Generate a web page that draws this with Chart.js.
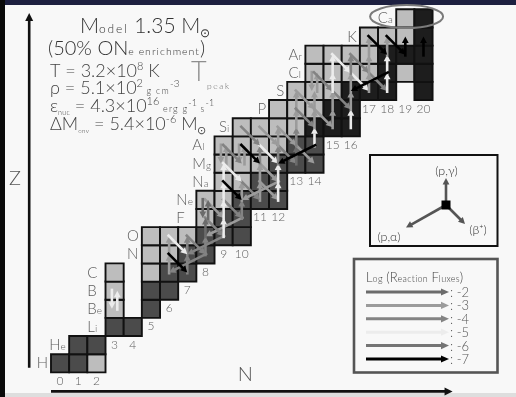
<!DOCTYPE html>
<html>
<head>
<meta charset="utf-8">
<script src="https://cdn.jsdelivr.net/npm/chart.js@4.4.0/dist/chart.umd.min.js"></script>
<style>
  html, body { margin: 0; padding: 0; background: #f8f8f8; }
  #wrap { width: 516px; height: 397px; position: relative; }
</style>
</head>
<body>
<div id="wrap"><canvas id="c"></canvas></div>
<script>
// ---- nuclide chart data -------------------------------------------------
// element symbol for Z = 1..20
const elementSymbols = ['H','He','Li','Be','B','C','N','O','F','Ne','Na','Mg','Al','Si','P','S','Cl','Ar','K','Ca'];
// first neutron number present in each row (Z = 1..20)
const rowFirstN = [0,1,3,3,3,3,5,5,8,8,9,9,9,10,12,13,14,14,17,19];
// cell shade per row, starting at rowFirstN: L light, D dark, K black, '.' empty
const rowShades = ['DDL','DD','DD','L.D','L.DD','L.LDD','LLDD','LLLDDD','LDD','LLDDD','LLDD',
                   'LLLDDD','LLLLDD','LLLLKKK','LLLKK','LLLKKK.K','LLLLKLK','LLLLKKK','LLLK','LK'];
// neutron-number tick labels and the row they sit under
const neutronTicks  = [0,1,2,3,4,5,6,7,8,9,10,11,12,13,14,15,16,17,18,19,20];
const neutronTickZ  = [1,1,1,3,3,4,5,6,7,8,8,10,10,12,12,14,14,16,16,16,16];
// log10 of reaction flux, legend entries
const fluxLevels = [-2,-3,-4,-5,-6,-7];
// reaction flux arrows: [Z from, N from, Z to, N to, log flux]
const fluxArrows = [
  [4,3,5,3,-5],[5,3,4,3,-5],
  [6,6,7,6,-3],[7,6,8,6,-3],[6,7,7,7,-4],[7,7,8,7,-4],[7,8,8,8,-4],
  [7,8,6,6,-4],[8,9,7,7,-4],[9,10,8,8,-3],
  [8,7,7,8,-4],[9,8,8,9,-4],[10,8,9,9,-3],[10,9,9,10,-4],
  [8,8,9,8,-2],[9,8,10,8,-2],[10,8,9,8,-2],
  [9,10,10,10,-4],[10,10,11,10,-3],[10,11,11,11,-3],
  [11,10,10,11,-4],[11,11,10,12,-3],[11,12,10,10,-3],[12,11,11,12,-3],
  [10,12,11,12,-5],[11,12,12,12,-5],
  [8,9,9,9,-5],[9,9,10,9,-5],[10,9,11,9,-5],[11,9,12,9,-5],
  [8,6,7,7,-5],
  [7,6,6,7,-7],
  [11,9,10,10,-7],
  [12,9,13,9,-3],[13,9,12,9,-3],[12,10,13,10,-3],[13,10,12,10,-3],[12,11,13,11,-4],
  [12,9,11,10,-5],[13,9,12,10,-4],[13,11,12,12,-5],[11,11,12,11,-3],
  [12,12,13,12,-4],[13,12,12,13,-4],[12,13,13,13,-2],[13,13,12,14,-3],
  [14,10,13,11,-4],[14,11,13,12,-3],[13,12,14,12,-3],[14,12,13,13,-3],
  [13,13,14,13,-4],[13,14,14,14,-5],
  [13,10,12,11,-7],[13,14,12,12,-7],
  [14,13,15,13,-3],[15,13,16,13,-3],[16,13,15,14,-3],[15,14,14,15,-3],[15,13,14,14,-4],
  [14,14,15,14,-3],[15,14,16,14,-3],[16,14,17,14,-3],[17,14,16,14,-3],[17,14,16,15,-4],[16,15,15,16,-4],
  [14,15,15,15,-3],[15,15,16,15,-3],[16,15,17,15,-5],[17,15,18,15,-5],[18,15,17,16,-5],[17,16,16,17,-5],
  [14,16,15,16,-5],[15,16,16,16,-3],[16,16,17,16,-3],[17,16,18,16,-4],[18,16,17,17,-4],[17,17,16,18,-4],
  [16,17,17,17,-3],[17,17,18,17,-3],[18,17,19,17,-3],[16,18,17,18,-5],[17,18,18,18,-5],
  [18,18,19,18,-3],
  [17,18,16,16,-7],[19,17,18,18,-7],[19,18,18,19,-7],[18,19,19,19,-7],[18,20,19,20,-7]
];

// ---- styling ------------------------------------------------------------
const SHADE = { L: '#bdbdbd', D: '#4b4b4b', K: '#1d1d1d' };
const FLUX_COLOR = { '-2': '#6b6b6b', '-3': '#9b9b9b', '-4': '#838383', '-5': '#ececec', '-6': '#747474', '-7': '#000000' };
const FONT = 'Lato, "DejaVu Sans", sans-serif';

// build the cell points from the rows
const cellPoints = [];
rowShades.forEach((row, i) => {
  const z = i + 1;
  [...row].forEach((s, k) => {
    if (s === '.') return;
    cellPoints.push({ x: rowFirstN[i] + k + 0.5, y: z + 0.5, shade: s });
  });
});

function drawArrow(ctx, x1, y1, x2, y2, color, lw, head, half) {
  const dx = x2 - x1, dy = y2 - y1, len = Math.hypot(dx, dy);
  const ux = dx / len, uy = dy / len;
  const bx = x2 - ux * head, by = y2 - uy * head;
  ctx.strokeStyle = color; ctx.fillStyle = color; ctx.lineWidth = lw; ctx.lineCap = 'butt';
  ctx.beginPath(); ctx.moveTo(x1, y1); ctx.lineTo(bx + ux * 0.5, by + uy * 0.5); ctx.stroke();
  ctx.beginPath();
  ctx.moveTo(x2, y2);
  ctx.lineTo(bx - uy * half, by + ux * half);
  ctx.lineTo(bx + uy * half, by - ux * half);
  ctx.closePath(); ctx.fill();
}

// draw a run of text pieces of mixed size / offset
function textRuns(ctx, x, y, parts, color) {
  ctx.fillStyle = color; ctx.textAlign = 'left'; ctx.textBaseline = 'alphabetic';
  parts.forEach(p => {
    ctx.font = (p.w || 300) + ' ' + p.s + 'px ' + FONT;
    ctx.letterSpacing = (p.ls || 0) + 'px';
    ctx.fillText(p.t, x, y + (p.dy || 0));
    x += ctx.measureText(p.t).width;
  });
  ctx.letterSpacing = '0px';
  return x;
}
function runsWidth(ctx, parts) {
  let w = 0;
  parts.forEach(p => {
    ctx.font = (p.w || 300) + ' ' + p.s + 'px ' + FONT;
    ctx.letterSpacing = (p.ls || 0) + 'px';
    w += ctx.measureText(p.t).width;
  });
  ctx.letterSpacing = '0px';
  return w;
}
function symbolParts(sym) {
  const parts = [{ t: sym[0], s: 15 }];
  if (sym.length > 1) parts.push({ t: sym.slice(1), s: 10, ls: 0.5 });
  return parts;
}

const backdrop = {
  id: 'backdrop',
  beforeDraw(chart) {
    const ctx = chart.ctx;
    ctx.save();
    ctx.fillStyle = '#f8f8f8'; ctx.fillRect(0, 0, chart.width, chart.height);
    ctx.fillStyle = '#dedede'; ctx.fillRect(0, chart.height - 4, chart.width, 4);
    ctx.fillStyle = '#1d2040'; ctx.fillRect(0, 0, chart.width, 5);
    ctx.fillStyle = '#0a0a0a'; ctx.fillRect(0, 0, 5, chart.height);
    ctx.restore();
  }
};

const decorations = {
  id: 'decorations',
  afterDatasetsDraw(chart) {
    const ctx = chart.ctx, xs = chart.scales.x, ys = chart.scales.y;
    const X = v => xs.getPixelForValue(v), Y = v => ys.getPixelForValue(v);
    ctx.save();

    // reaction flux arrows between cell centres
    const key = a => a.join(',');
    const set = new Set(fluxArrows.map(a => key(a.slice(0, 4))));
    fluxArrows.forEach(([z1, n1, z2, n2, lv]) => {
      let x1 = X(n1 + 0.5), y1 = Y(z1 + 0.5), x2 = X(n2 + 0.5), y2 = Y(z2 + 0.5);
      const len = Math.hypot(x2 - x1, y2 - y1);
      const ux = (x2 - x1) / len, uy = (y2 - y1) / len;
      x1 -= ux * 2; y1 -= uy * 2;
      if (set.has(key([z2, n2, z1, n1]))) {
        const o = 2.7;
        x1 += -uy * o; y1 += ux * o; x2 += -uy * o; y2 += ux * o;
      }
      drawArrow(ctx, x1, y1, x2, y2, FLUX_COLOR[String(lv)], 2.6, 6.5, 3.4);
    });

    // element symbols left of each row
    let i = 0;
    while (i < elementSymbols.length) {
      let j = i;
      while (j + 1 < elementSymbols.length && rowFirstN[j + 1] === rowFirstN[i]) j++;
      let wmax = 0;
      for (let k = i; k <= j; k++) wmax = Math.max(wmax, runsWidth(ctx, symbolParts(elementSymbols[k])));
      const left = X(rowFirstN[i]) - 3 - wmax;
      for (let k = i; k <= j; k++) {
        textRuns(ctx, left, Y(k + 1.5) + 5, symbolParts(elementSymbols[k]), '#5e5e5e');
      }
      i = j + 1;
    }

    // neutron numbers under the columns
    ctx.font = '300 12px ' + FONT; ctx.fillStyle = '#5e5e5e'; ctx.textAlign = 'center';
    neutronTicks.forEach((n, k) => ctx.fillText(String(n), X(n + 0.5), Y(neutronTickZ[k]) + 12.5));

    // ring around calcium
    ctx.strokeStyle = '#7a7a7a'; ctx.lineWidth = 2;
    ctx.beginPath(); ctx.ellipse(X(19.57), Y(20.6), 36.5, 11.5, 0, 0, Math.PI * 2); ctx.stroke();

    // axes arrows
    drawArrow(ctx, X(0), Y(-0.05), X(22.1), Y(-0.05), '#111', 2.6, 8, 4);
    drawArrow(ctx, X(-1.2), Y(1.25), X(-1.2), Y(20.8), '#111', 2.6, 8, 4);
    ctx.font = '300 20px ' + FONT; ctx.fillStyle = '#555'; ctx.textAlign = 'center';
    ctx.fillText('N', X(10.7), Y(0.55));
    ctx.fillText('Z', X(-1.98), Y(11.3));

    // model description
    textRuns(ctx, 80, 33, [{ t: 'M', s: 21 }, { t: 'odel', s: 12, ls: 1.8 }, { t: ' 1.35 M', s: 21 }, { t: '⊙', s: 12, dy: 4 }], '#333');
    textRuns(ctx, 48, 55, [{ t: '(50% ON', s: 20 }, { t: 'e enrichment', s: 10.5, ls: 1.0 }, { t: ')', s: 20 }], '#333');
    textRuns(ctx, 50, 77, [{ t: 'T = 3.2×10', s: 18 }, { t: '8', s: 11, dy: -7 }, { t: ' K', s: 18 }], '#444');
    textRuns(ctx, 50, 94, [{ t: 'ρ = 5.1×10', s: 18 }, { t: '2', s: 11, dy: -7 }, { t: ' g cm', s: 9, ls: 1.2 }, { t: '-3', s: 10, dy: -7 }], '#444');
    textRuns(ctx, 50, 112, [{ t: 'ε', s: 18 }, { t: 'nuc', s: 7, dy: 3, ls: 0.3 }, { t: ' = 4.3×10', s: 18 }, { t: '16', s: 11, dy: -7 },
                             { t: ' erg g', s: 9, ls: 1.2 }, { t: '-1', s: 9, dy: -6 }, { t: ' s', s: 9, ls: 1.2 }, { t: '-1', s: 9, dy: -6 }], '#444');
    textRuns(ctx, 50, 130, [{ t: 'ΔM', s: 18 }, { t: 'env', s: 6.5, dy: 3, ls: 0.3 }, { t: ' = 5.4×10', s: 18 }, { t: '-6', s: 11, dy: -7 },
                             { t: ' M', s: 18 }, { t: '⊙', s: 11, dy: 4 }], '#444');
    textRuns(ctx, 191, 81, [{ t: 'T', s: 27, w: 300 }], '#8e8e8e');
    textRuns(ctx, 207, 89, [{ t: 'peak', s: 8.5, ls: 1.6 }], '#666');

    // reaction type key
    ctx.strokeStyle = '#111'; ctx.lineWidth = 2;
    ctx.strokeRect(370, 155, 127.5, 91);
    drawArrow(ctx, 446, 205, 446, 178, '#555', 2.6, 6.5, 3.4);
    drawArrow(ctx, 446, 205, 406, 227.5, '#555', 2.6, 6.5, 3.4);
    drawArrow(ctx, 446, 205, 465, 224, '#555', 2.6, 6.5, 3.4);
    ctx.fillStyle = '#000'; ctx.fillRect(441.5, 200.5, 9, 9);
    ctx.textAlign = 'center'; ctx.fillStyle = '#333'; ctx.font = '300 12.5px ' + FONT;
    ctx.fillText('(p,γ)', 446.5, 175);
    ctx.fillText('(p,α)', 389, 240.5);
    ctx.fillText('(β⁺)', 478, 234);

    // flux legend
    ctx.strokeRect(354, 259, 143.5, 113.5);
    textRuns(ctx, 366, 281.5, [{ t: 'L', s: 13 }, { t: 'og', s: 9, ls: 0.3 }, { t: ' (R', s: 13 }, { t: 'eaction', s: 9, ls: 0.3 },
                                { t: ' F', s: 13 }, { t: 'luxes', s: 9, ls: 0.3 }, { t: ')', s: 13 }], '#444');
    fluxLevels.forEach((lv, k) => {
      const y = 292 + k * 13.4;
      drawArrow(ctx, 366, y, 449, y, FLUX_COLOR[String(lv)], 3, 8, 3.6);
      ctx.font = '300 13px ' + FONT; ctx.fillStyle = '#555'; ctx.textAlign = 'left';
      ctx.fillText(': ' + lv, 450, y + 5);
    });

    ctx.restore();
  }
};

const cellSide = c => Math.abs(c.chart.scales.x.getPixelForValue(1) - c.chart.scales.x.getPixelForValue(0));

new Chart(document.getElementById('c'), {
  type: 'scatter',
  data: {
    datasets: [{
      label: 'nuclides',
      data: cellPoints,
      pointStyle: 'rect',
      radius: c => cellSide(c) / Math.SQRT2,
      backgroundColor: c => SHADE[c.raw ? c.raw.shade : 'L'],
      borderColor: '#111',
      borderWidth: 1.9
    }]
  },
  options: {
    responsive: true,
    maintainAspectRatio: false,
    animation: false,
    events: [],
    layout: { padding: { left: 14.66, right: 10.74, top: 2.04, bottom: 1.06 } },
    scales: {
      x: { type: 'linear', min: -2, max: 25, display: false },
      y: { type: 'linear', min: -0.3, max: 21.4, display: false }
    },
    plugins: { legend: { display: false }, tooltip: { enabled: false }, title: { display: false } }
  },
  plugins: [backdrop, decorations]
});
</script>
</body>
</html>
